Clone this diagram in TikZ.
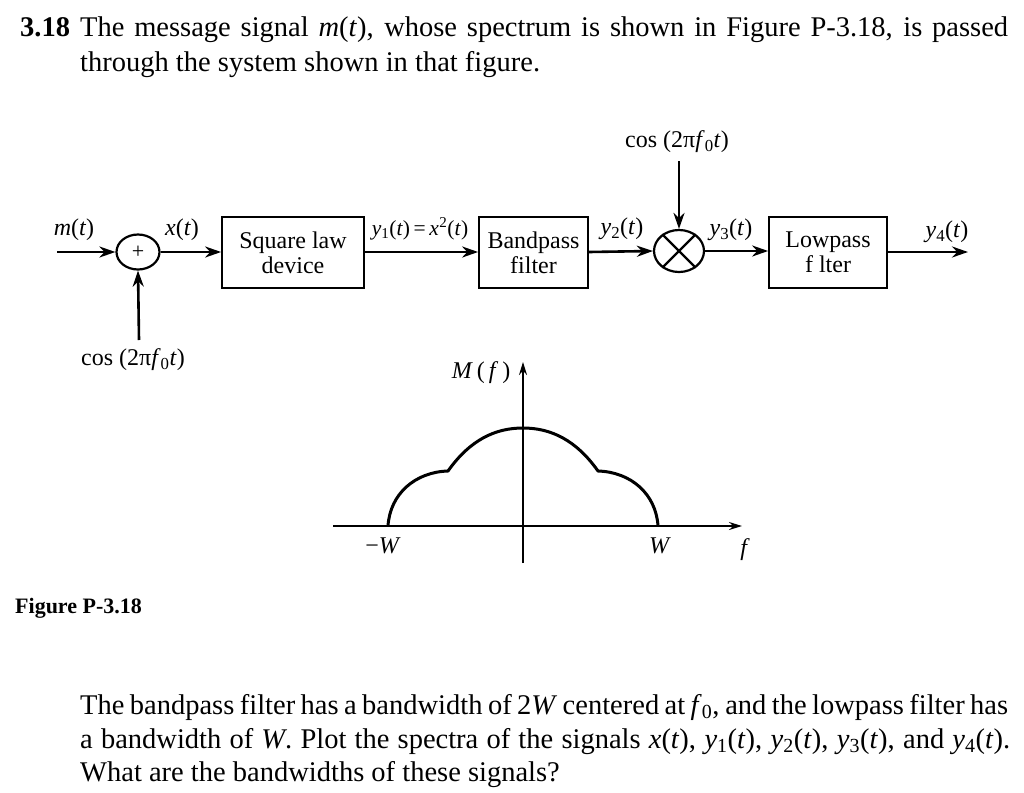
\documentclass[tikz,border=0pt]{standalone}
\usepackage{fontspec}
\setmainfont{Liberation Serif}
\usetikzlibrary{arrows.meta,shapes.geometric}
\newcommand{\mi}[1]{\textit{#1}}
\newcommand{\lowsub}[1]{\textsubscript{#1}}
\begin{document}
\begin{tikzpicture}[x=1pt,y=-1pt,
  txt/.style={inner sep=0pt,anchor=base west,font=\fontsize{28.5}{32}\selectfont},
  lbl/.style={inner sep=0pt,font=\fontsize{24}{28}\selectfont},
  blockbox/.style={draw,line width=1.7pt,minimum height=71pt,inner sep=0pt,align=center,font=\fontsize{24}{25}\selectfont},
  sig/.style={line width=2.6pt,-{Stealth[length=16pt,width=11pt]}},
  axisline/.style={line width=1.8pt,-{Stealth[length=13pt,width=8pt]}},
  ring/.style={draw,ellipse,line width=2.2pt,inner sep=0pt}]
\useasboundingbox (0,0) rectangle (1024,792);
% problem statement
\node[txt,font=\fontsize{28.5}{32}\selectfont\bfseries] (num) at (20,37) {3.18};
\node[txt] (l1) at (80,37) {\makebox[928pt][s]{The message signal \mi{m}(\mi{t}), whose spectrum is shown in Figure P-3.18, is passed}};
\node[txt] (l2) at (80,71) {through the system shown in that figure.};
% block diagram
\node[ring,minimum width=43pt,minimum height=35pt,font=\fontsize{22}{22}\selectfont] (sum) at (138,252) {+};
\node[blockbox,minimum width=142pt] (sq) at (293,252.5) {Square law\\device};
\node[blockbox,minimum width=109pt] (bp) at (533.5,252.5) {Bandpass\\filter};
\node[ring,minimum width=50pt,minimum height=42pt] (mul) at (679,251) {};
\draw[line width=2.2pt] (mul.45) -- (mul.225) (mul.135) -- (mul.315);
\node[blockbox,minimum width=118pt] (lp) at (828,252.5) {Lowpass\\f lter};
\coordinate (in) at (57,252);
\coordinate (out) at (968,252);
\coordinate (cosb) at (139,340);
\coordinate (cost) at (679,161);
\draw[sig] (in) -- (sum.west);
\draw[sig] (sum.east) -- (sum.east -| sq.west);
\draw[sig] (cosb) -- (sum.south);
\draw[sig] (sq.east |- sum.east) -- (sum.east -| bp.west);
\draw[sig] (bp.east |- sum.east) -- (mul.west);
\draw[sig] (cost) -- (mul.north);
\draw[sig] (mul.east) -- (mul.east -| lp.west);
\draw[sig] (lp.east |- out) -- (out);
\node[lbl] (lm) at (74,230) {\mi{m}(\mi{t})};
\node[lbl] (lx) at (182,230) {\mi{x}(\mi{t})};
\node[lbl,font=\fontsize{21.5}{25}\selectfont] (ly1) at (420,229) {\mi{y}\lowsub{1}(\mi{t})\,=\,\mi{x}\kern0.5pt\textsuperscript{2}(\mi{t})};
\node[lbl] (ly2) at (622,229) {\mi{y}\lowsub{2}(\mi{t})};
\node[lbl] (ly3) at (731,230) {\mi{y}\lowsub{3}(\mi{t})};
\node[lbl] (ly4) at (947,232) {\mi{y}\lowsub{4}(\mi{t})};
\node[lbl] (cb) at (133,360) {cos (2π\mi{f}\lowsub{0}\mi{t})};
\node[lbl] (ct) at (677,142) {cos (2π\mi{f}\lowsub{0}\mi{t})};
% spectrum
\coordinate (hx0) at (333,526);
\coordinate (hx1) at (742,526);
\coordinate (vy0) at (523,563);
\coordinate (vy1) at (523,362);
\draw[axisline] (hx0) -- (hx1);
\draw[axisline] (vy0) -- (vy1);
\draw[line width=3pt,line join=round]
  (388,526) .. controls (390,494) and (415,472) .. (448,471)
  .. controls (470,440) and (495,428) .. (523,428)
  .. controls (551,428) and (576,440) .. (598,471)
  .. controls (631,472) and (656,494) .. (658,526);
\node[lbl] (mf) at (481,373) {\mi{M}\,(\,\mi{f}\,)};
\node[lbl] (mw) at (383,546) {−\mi{W}};
\node[lbl] (pw) at (660,546) {\mi{W}};
\node[lbl] (ff) at (745,550) {\mi{f}};
% caption
\node[inner sep=0pt,anchor=base west,font=\fontsize{22}{26}\selectfont\bfseries] (cap) at (15,613) {Figure P-3.18};
% closing paragraph
\node[txt] (p1) at (80,714) {\makebox[928pt][s]{The bandpass filter has a bandwidth of 2\mi{W} centered at \mi{f}\lowsub{0}, and the lowpass filter has}};
\node[txt] (p2) at (80,748) {\makebox[930pt][s]{a bandwidth of \mi{W}. Plot the spectra of the signals \mi{x}(\mi{t}), \mi{y}\lowsub{1}(\mi{t}), \mi{y}\lowsub{2}(\mi{t}), \mi{y}\lowsub{3}(\mi{t}), and \mi{y}\lowsub{4}(\mi{t}).}};
\node[txt] (p3) at (80,781) {What are the bandwidths of these signals?};
\end{tikzpicture}
\end{document}
